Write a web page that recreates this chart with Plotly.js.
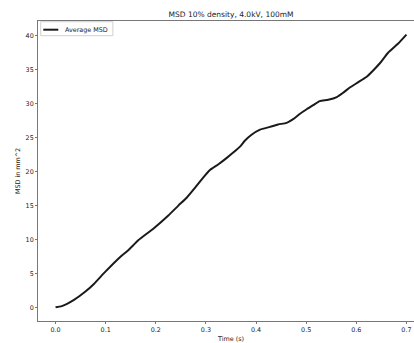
<!DOCTYPE html>
<html>
<head>
<meta charset="utf-8">
<script src="https://cdn.plot.ly/plotly-3.0.1.min.js"></script>
<style>
html,body{margin:0;padding:0;overflow:hidden;background:#fff;width:414px;height:343px;}
#chart{width:425px;height:343px;}
</style>
</head>
<body>
<div id="chart"></div>
<script>
// Data
const timeS = [0, 0.0127, 0.036, 0.059, 0.076, 0.099, 0.129, 0.145, 0.165, 0.195, 0.225, 0.245, 0.262, 0.278, 0.292, 0.308, 0.325, 0.341, 0.355, 0.368, 0.378, 0.391, 0.408, 0.428, 0.444, 0.461, 0.474, 0.487, 0.501, 0.514, 0.527, 0.544, 0.561, 0.574, 0.587, 0.604, 0.620, 0.634, 0.647, 0.663, 0.683, 0.700];
const avgMSD = [0, 0.19, 1.07, 2.3, 3.42, 5.23, 7.43, 8.41, 9.88, 11.6, 13.55, 15.0, 16.2, 17.6, 18.9, 20.25, 21.1, 22.0, 22.85, 23.7, 24.6, 25.45, 26.2, 26.6, 26.96, 27.2, 27.75, 28.5, 29.2, 29.8, 30.4, 30.6, 31.0, 31.65, 32.4, 33.2, 33.95, 34.95, 35.98, 37.5, 38.85, 40.2];
const seriesName = 'Average MSD';
const chartTitle = 'MSD 10% density, 4.0kV, 100mM';
const xTitle = 'Time (s)';
const yTitle = 'MSD in mm^2';
const xTicks = [0, 0.1, 0.2, 0.3, 0.4, 0.5, 0.6, 0.7];
const yTicks = [0, 5, 10, 15, 20, 25, 30, 35, 40];

const lineColor = '#1a1a1a';
const font = {family: 'DejaVu Sans, sans-serif', size: 6.4, color: '#222'};

const trace = {
  x: timeS, y: avgMSD, type: 'scatter', mode: 'lines', name: seriesName,
  line: {color: lineColor, width: 2, shape: 'spline', smoothing: 0.6},
  showlegend: false
};

const axisCommon = {
  showgrid: false, zeroline: false, showline: true, mirror: true,
  linecolor: '#777', linewidth: 1, ticks: 'outside', ticklen: 2,
  tickcolor: '#777', tickwidth: 1, tickfont: font, automargin: false
};

const layout = {
  width: 425, height: 343,
  margin: {l: 38, r: 1, t: 21, b: 22},
  paper_bgcolor: '#fff', plot_bgcolor: '#fff',
  font: font,
  title: {text: chartTitle, font: {family: 'DejaVu Sans, sans-serif', size: 7.5, color: '#222'},
          x: 0.5, xanchor: 'center', xref: 'paper', y: 1 - 14/343, yanchor: 'middle', yref: 'container'},
  xaxis: Object.assign({}, axisCommon, {
    range: [-0.035, 0.735], tickvals: xTicks, tickformat: '.1f',
    title: {text: xTitle, font: font, standoff: 3}
  }),
  yaxis: Object.assign({}, axisCommon, {
    range: [-2.01, 42.21], tickvals: yTicks,
    title: {text: yTitle, font: font, standoff: 4}
  }),
  showlegend: false,
  // compact matplotlib-style legend box
  shapes: [
    {type: 'rect', xref: 'paper', yref: 'paper', x0: 0.007, x1: 0.194, y0: 0.951, y1: 0.9977,
     line: {color: '#d0d0d0', width: 1}, fillcolor: 'rgba(255,255,255,0.8)', layer: 'above'},
    {type: 'line', xref: 'paper', yref: 'paper', x0: 0.0137, x1: 0.0526, y0: 0.971, y1: 0.971,
     line: {color: lineColor, width: 2}, layer: 'above'}
  ],
  annotations: [
    {text: seriesName, xref: 'paper', yref: 'paper', x: 0.0655, y: 0.971,
     xanchor: 'left', yanchor: 'middle', showarrow: false, font: font}
  ]
};

Plotly.newPlot('chart', [trace], layout, {staticPlot: true, displayModeBar: false});
</script>
</body>
</html>
